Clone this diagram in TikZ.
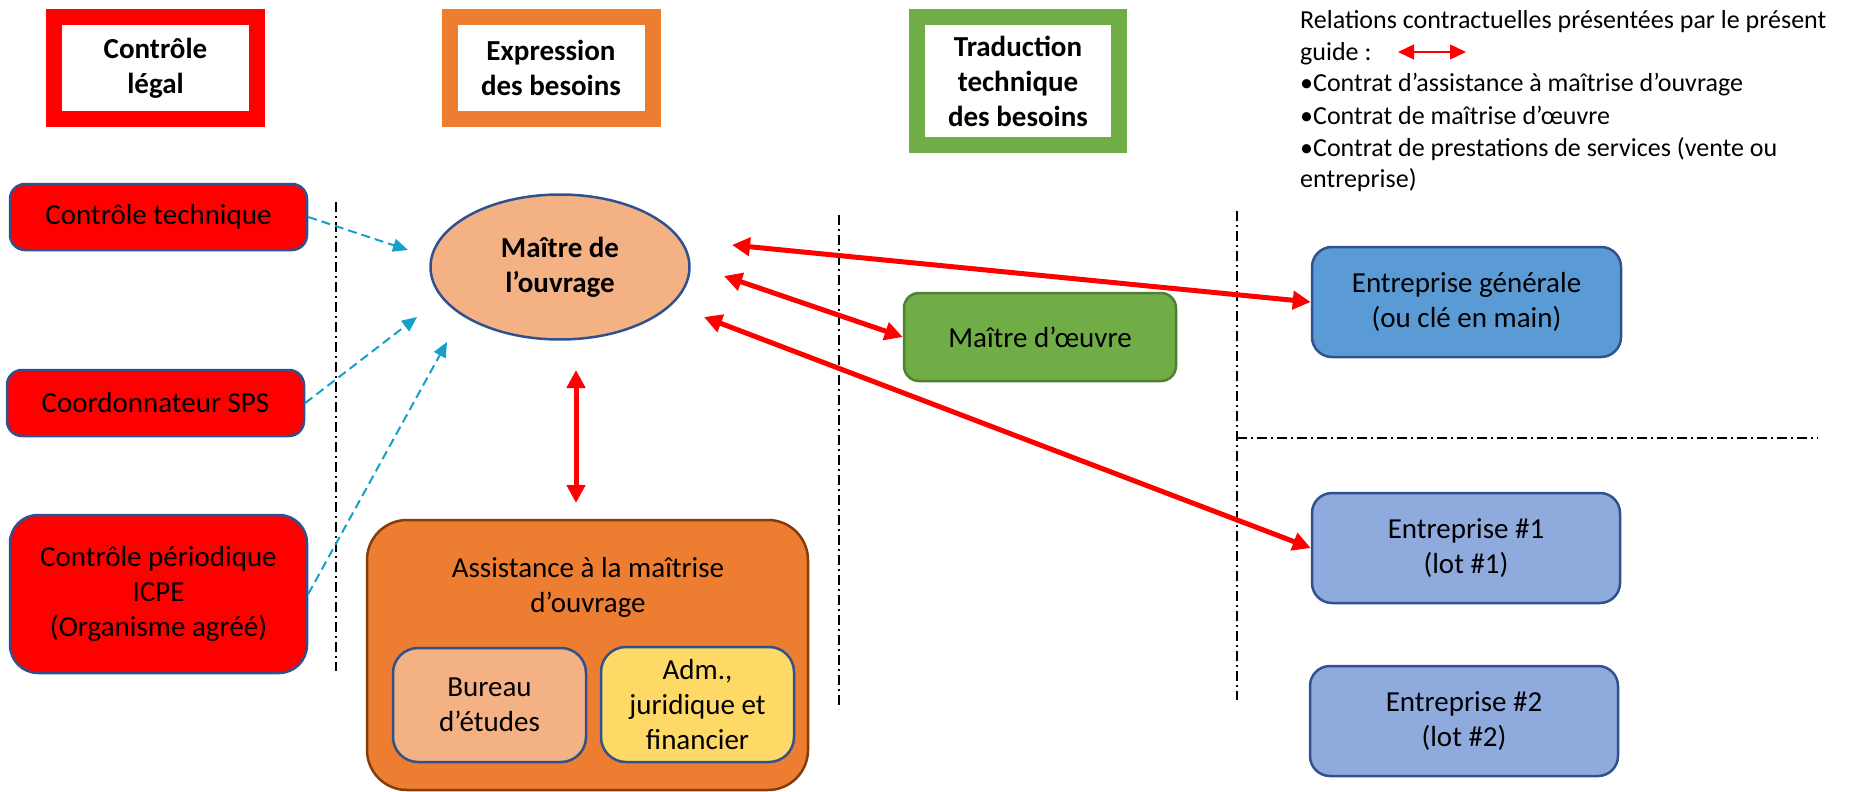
\documentclass[tikz,border=0pt]{standalone}
\usepackage{fontspec}
\setmainfont{Carlito}
\usetikzlibrary{arrows.meta,shapes.geometric}
\definecolor{cRed}{RGB}{255,0,0}
\definecolor{cOrange}{RGB}{237,125,49}
\definecolor{cGreen}{RGB}{112,173,71}
\definecolor{cPeach}{RGB}{244,177,131}
\definecolor{cYellow}{RGB}{255,217,102}
\definecolor{cBlue}{RGB}{91,155,213}
\definecolor{cLBlue}{RGB}{143,170,220}
\definecolor{cBorder}{RGB}{47,82,143}
\definecolor{cGBorder}{RGB}{80,126,50}
\definecolor{cBrown}{RGB}{132,60,12}
\definecolor{cCyan}{RGB}{20,160,200}
\begin{document}
\begin{tikzpicture}[x=1pt,y=-1pt,
  body/.style={font=\fontsize{29}{35}\selectfont, align=center, inner sep=0pt, text=black},
  header/.style={draw, line width=16pt, fill=white, font=\bfseries\fontsize{29}{35}\selectfont, align=center, inner sep=0pt},
  box/.style={body, draw=cBorder, line width=2.5pt, rounded corners=15pt},
  legendline/.style={font=\fontsize{26}{31.6}\selectfont, anchor=base west, inner sep=0pt},
  sep/.style={line width=2pt, dash pattern=on 10pt off 4pt on 2pt off 4pt},
  contract/.style={draw=cRed, line width=5pt, {Triangle[length=18pt,width=18pt]}-{Triangle[length=18pt,width=18pt]}},
  influence/.style={draw=cCyan, line width=2pt, dash pattern=on 9pt off 5pt, -{Triangle[length=15pt,width=13pt]}}
]
\useasboundingbox (0,0) rectangle (1861,792);

% headers
\node[header, draw=cRed, minimum width=203pt, minimum height=102pt] (legal) at (155.5,68) {Contrôle\\légal};
\node[header, draw=cOrange, minimum width=203pt, minimum height=102pt] (expr) at (551,68) {Expression\\des besoins};
\node[header, draw=cGreen, minimum width=202pt, minimum height=128pt] (trad) at (1018,81) {Traduction\\technique\\des besoins};

% legend
\node[legendline] (lg1) at (1300,29) {Relations contractuelles présentées par le présent};
\node[legendline] (lg2) at (1300,61) {guide :};
\node[legendline] (lg3) at (1300,92) {•Contrat d’assistance à maîtrise d’ouvrage};
\node[legendline] (lg4) at (1300,124) {•Contrat de maîtrise d’œuvre};
\node[legendline] (lg5) at (1300,156) {•Contrat de prestations de services (vente ou};
\node[legendline] (lg6) at (1300,187) {entreprise)};
\coordinate (lgA) at (1398,52);
\coordinate (lgB) at (1466,52);
\draw[draw=cRed, line width=1.3pt, {Triangle[length=16pt,width=15pt]}-{Triangle[length=16pt,width=15pt]}] (lgA) -- (lgB);

% separators
\draw[sep] (336,202) -- (336,671);
\draw[sep] (839,215) -- (839,709);
\draw[sep] (1237,211) -- (1237,700);
\draw[sep] (1237,438) -- (1818,438);

% left column
\node[box, fill=cRed, minimum width=297pt, minimum height=66pt] (ct) at (158.5,217) {Contrôle technique};
\node[box, fill=cRed, minimum width=297pt, minimum height=66pt] (sps) at (155.5,403) {Coordonnateur SPS};
\node[box, fill=cRed, rounded corners=28pt, minimum width=297pt, minimum height=158pt] (icpe) at (158.5,594) {Contrôle périodique\\ICPE\\(Organisme agréé)};

% maitre d'ouvrage
\node[ellipse, draw=cBorder, line width=2.5pt, fill=cPeach, minimum width=259pt, minimum height=145pt, inner sep=0pt,
      font=\bfseries\fontsize{29}{35}\selectfont, align=center] (mo) at (560,267) {Maître de\\l’ouvrage};

% AMO
\node[draw=cBrown, line width=2.5pt, fill=cOrange, rounded corners=40pt, minimum width=441pt, minimum height=270pt, inner sep=0pt] (amo) at (587.5,655) {};
\node[body] (amoT) at (588,587.5) {Assistance à la maîtrise\\d’ouvrage};
\node[box, fill=cPeach, rounded corners=25pt, minimum width=193pt, minimum height=114pt] (be) at (489.5,705) {Bureau\\d’études};
\node[box, fill=cYellow, rounded corners=25pt, minimum width=193pt, minimum height=115pt] (adm) at (697.5,704.5) {Adm.,\\juridique et\\financier};

% maitre d'oeuvre
\node[box, draw=cGBorder, fill=cGreen, minimum width=272pt, minimum height=88pt] (moe) at (1040,337) {Maître d’œuvre};

% entreprises
\node[box, fill=cBlue, rounded corners=20pt, minimum width=309pt, minimum height=110pt] (eg) at (1466.5,302) {Entreprise générale\\(ou clé en main)};
\node[box, fill=cLBlue, rounded corners=20pt, minimum width=308pt, minimum height=110pt] (e1) at (1466,548) {Entreprise \#1\\(lot \#1)};
\node[box, fill=cLBlue, rounded corners=20pt, minimum width=308pt, minimum height=110pt] (e2) at (1464,721) {Entreprise \#2\\(lot \#2)};

% contract arrows
\coordinate (a1) at (732,245);
\coordinate (a2) at (724,276);
\coordinate (a3) at (704,317);
\coordinate (a4) at (576,370);
\coordinate (a5) at (576,503);
\draw[contract] (a1) -- (eg.west);
\draw[contract] (a2) -- (moe.west);
\draw[contract] (a3) -- (e1.west);
\draw[contract] (a4) -- (a5);

% influence arrows
\coordinate (b1) at (408,250);
\coordinate (b2) at (417,317);
\coordinate (b3) at (447,342);
\draw[influence] (ct.east) -- (b1);
\draw[influence] (sps.east) -- (b2);
\draw[influence] (icpe.east) -- (b3);
\end{tikzpicture}
\end{document}
